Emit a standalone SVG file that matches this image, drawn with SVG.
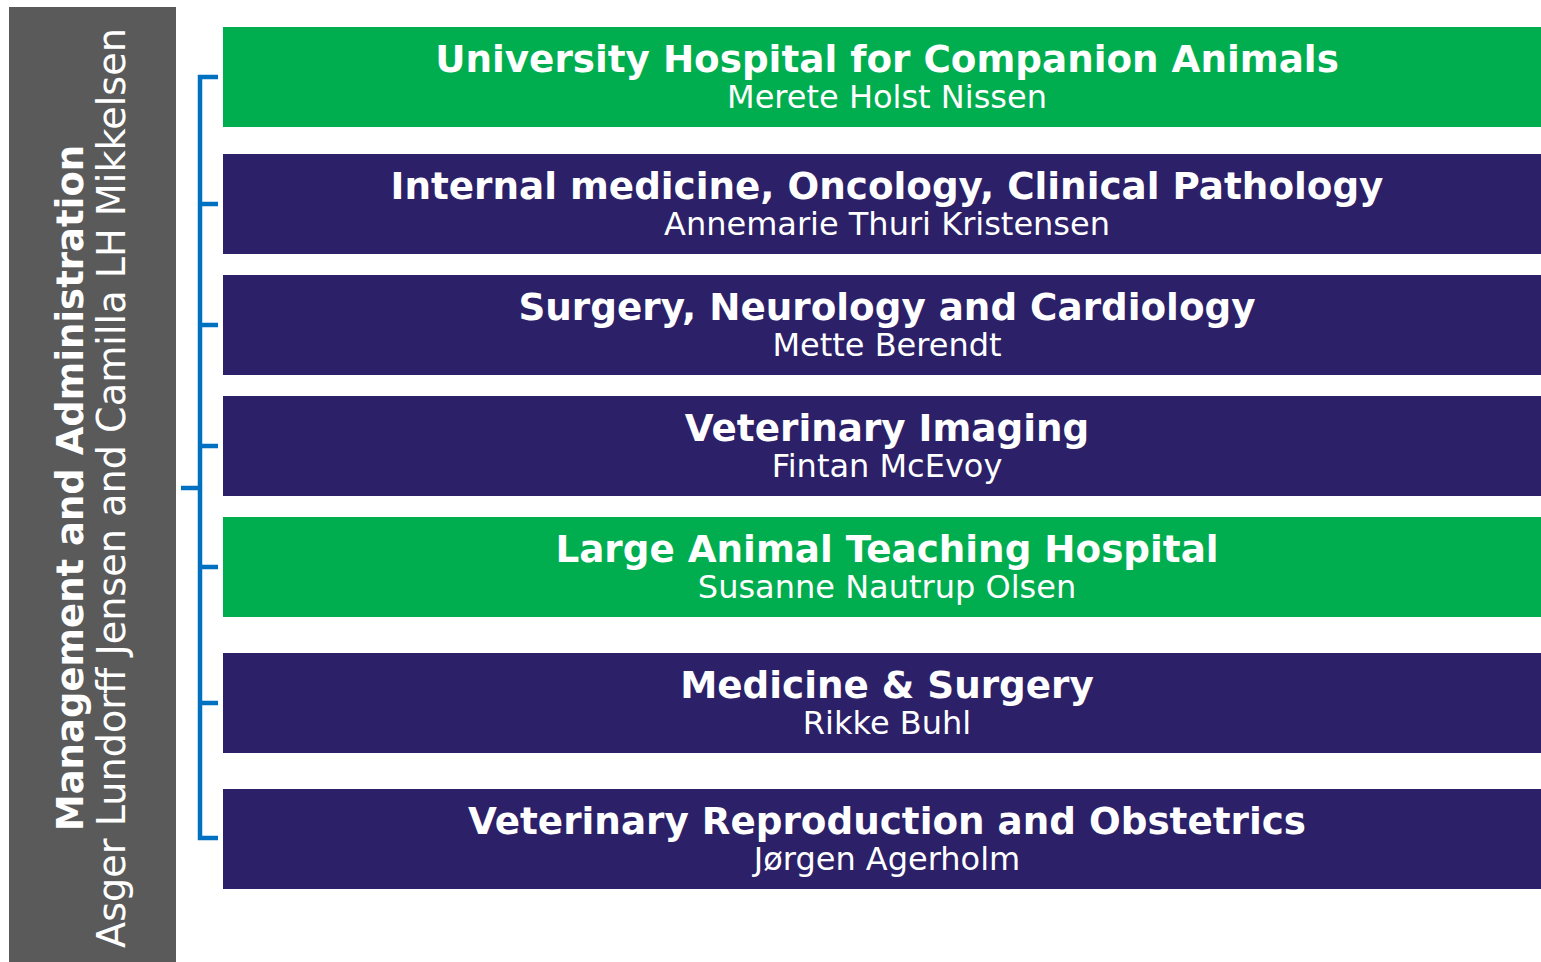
<svg xmlns="http://www.w3.org/2000/svg" width="1541" height="962" viewBox="0 0 1541 962">
<style>
.green{fill:#00AE4F}
.purple{fill:#2C2169}
.t{font-family:"DejaVu Sans",Verdana,sans-serif;font-weight:bold;font-size:37.3px;fill:#ffffff;text-anchor:middle}
.s{font-family:"DejaVu Sans",Verdana,sans-serif;font-size:32px;fill:#ffffff;text-anchor:middle}
.vb{font-family:"DejaVu Sans",Verdana,sans-serif;font-weight:bold;font-size:37px;fill:#ffffff;text-anchor:middle}
.vr{font-family:"DejaVu Sans",Verdana,sans-serif;font-size:38.2px;fill:#ffffff;text-anchor:middle}
.br{fill:none;stroke:#0070C0;stroke-width:4.5}
</style>
<rect width="1541" height="962" fill="#ffffff"/>
<g id="management">
<rect x="9" y="7" width="167" height="955" fill="#5A5A5A"/>
<text class="vb" transform="translate(83,488) rotate(-90)">Management and Administration</text>
<text class="vr" transform="translate(125,488) rotate(-90)">Asger Lundorff Jensen and Camilla LH Mikkelsen</text>
</g>
<g id="connectors">
<path class="br" d="M218,77 H200 V838 H218"/>
<path class="br" d="M200,204 H218 M200,325 H218 M200,446 H218 M200,567 H218 M200,703 H218"/>
<path class="br" d="M181,488 H200"/>
</g>
<g id="n1">
<rect class="green" x="223" y="27" width="1318" height="100"/>
<text class="t" x="887" y="72">University Hospital for Companion Animals</text>
<text class="s" x="887" y="108">Merete Holst Nissen</text>
</g>
<g id="n2">
<rect class="purple" x="223" y="154" width="1318" height="100"/>
<text class="t" x="887" y="199">Internal medicine, Oncology, Clinical Pathology</text>
<text class="s" x="887" y="235">Annemarie Thuri Kristensen</text>
</g>
<g id="n3">
<rect class="purple" x="223" y="275" width="1318" height="100"/>
<text class="t" x="887" y="320">Surgery, Neurology and Cardiology</text>
<text class="s" x="887" y="356">Mette Berendt</text>
</g>
<g id="n4">
<rect class="purple" x="223" y="396" width="1318" height="100"/>
<text class="t" x="887" y="441">Veterinary Imaging</text>
<text class="s" x="887" y="477">Fintan McEvoy</text>
</g>
<g id="n5">
<rect class="green" x="223" y="517" width="1318" height="100"/>
<text class="t" x="887" y="562">Large Animal Teaching Hospital</text>
<text class="s" x="887" y="598">Susanne Nautrup Olsen</text>
</g>
<g id="n6">
<rect class="purple" x="223" y="653" width="1318" height="100"/>
<text class="t" x="887" y="698">Medicine &amp; Surgery</text>
<text class="s" x="887" y="734">Rikke Buhl</text>
</g>
<g id="n7">
<rect class="purple" x="223" y="789" width="1318" height="100"/>
<text class="t" x="887" y="834">Veterinary Reproduction and Obstetrics</text>
<text class="s" x="887" y="870">Jørgen Agerholm</text>
</g>
</svg>
